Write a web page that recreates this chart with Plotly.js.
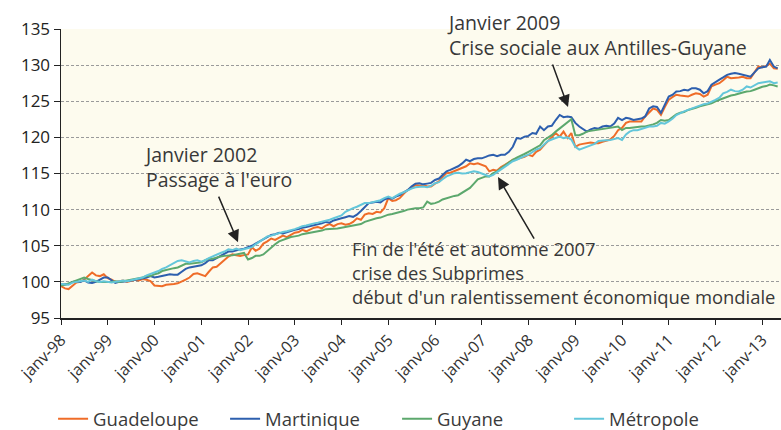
<!DOCTYPE html>
<html>
<head>
<meta charset="utf-8">
<script src="https://cdn.plot.ly/plotly-3.0.1.min.js"></script>
<style>html,body{margin:0;padding:0;background:#fff;overflow:hidden}#chart{width:781px;height:430px}</style>
</head>
<body>
<div id="chart"></div>
<script>
// Monthly index values, January 1998 to May 2013 (base ~100 in 1998)
const startYear = 1998;
const guadeloupe = [
  99.4, 99.1, 99.0, 99.5, 99.9, 100.0, 100.3, 100.8, 101.3, 100.9, 100.8, 101.05,
  100.5, 100.3, 100.0, 100.1, 100.2, 100.0, 100.2, 100.3, 100.2, 100.4, 100.3, 100.1,
  99.5, 99.4, 99.4, 99.6, 99.6, 99.7, 99.8, 100.0, 100.3, 100.6, 101.1, 101.2,
  101.0, 100.8, 101.4, 102.0, 102.1, 102.6, 103.1, 103.5, 103.8, 103.7, 103.6, 103.7,
  103.8, 104.8, 104.3, 104.6, 105.3, 105.6, 106.0, 105.8, 106.1, 106.4, 106.2, 106.5,
  106.8, 106.9, 107.2, 107.0, 107.3, 107.5, 107.6, 107.4, 107.8, 108.0, 107.7, 108.0,
  108.1, 107.9, 108.0, 108.3, 108.8, 108.6, 109.3, 109.5, 109.4, 109.7, 109.6, 110.2,
  111.6, 111.2, 111.3, 111.6, 112.2, 112.7, 113.0, 113.4, 113.3, 113.4, 113.2, 113.2,
  113.6, 113.9, 114.5, 115.05, 115.1, 115.3, 115.5, 115.7, 116.0, 116.4, 116.3, 116.4,
  116.2, 116.0, 115.3, 115.5, 115.4, 115.9, 116.2, 116.5, 116.9, 117.0, 117.1, 117.3,
  117.6, 117.4, 118.0, 118.3, 118.9, 119.5, 120.0, 120.6, 120.1, 120.8, 119.9, 120.6,
  118.7, 119.0, 119.1, 119.2, 119.3, 119.2, 119.2, 119.4, 119.6, 119.7, 120.2, 121.0,
  121.3, 122.0, 122.2, 122.2, 122.1, 122.2, 122.9, 123.4, 124.0, 123.8, 123.1, 124.2,
  125.2, 125.6, 125.9, 125.8, 125.7, 125.65, 125.9, 126.1, 126.0, 125.65, 125.9, 127.05,
  127.3, 127.5, 127.9, 128.4, 128.2, 128.2, 128.3, 128.4, 128.2, 128.2, 129.0, 129.8,
  129.7, 129.9, 130.2, 129.55, 129.5
];
const martinique = [
  99.6, 99.6, 99.7, 100.0, 100.1, 100.0, 100.2, 99.9, 99.85, 100.0, 100.3, 100.6,
  100.6, 100.2, 99.85, 100.0, 100.1, 100.1, 100.2, 100.3, 100.35, 100.4, 100.6, 100.8,
  100.6, 100.7, 100.8, 101.0, 101.05, 101.0, 101.0, 101.4, 101.8, 102.0, 102.1, 102.3,
  102.3, 102.6, 103.0, 103.0, 103.3, 103.6, 103.9, 104.2, 104.2, 104.4, 104.5, 104.6,
  104.8, 105.0, 105.3, 105.6, 106.0, 106.3, 106.5, 106.6, 106.8, 106.7, 106.9, 107.0,
  107.2, 107.3, 107.5, 107.6, 107.7, 107.9, 108.0, 108.1, 108.3, 108.2, 108.5, 108.6,
  108.8, 108.95, 109.1, 109.0, 109.3, 109.8, 110.4, 110.9, 111.0, 111.1, 111.0, 111.4,
  111.6, 111.5, 111.8, 112.0, 112.4, 112.7, 113.2, 113.6, 113.65, 113.5, 113.6, 113.7,
  114.1, 114.3, 114.8, 115.3, 115.5, 115.7, 116.0, 116.4, 116.9, 116.7, 117.0, 117.1,
  117.1, 117.3, 117.5, 117.6, 117.4, 117.6, 117.6, 118.0, 118.7, 119.9, 119.8, 120.1,
  120.2, 120.6, 120.5, 121.5, 121.0, 121.5, 121.6, 122.4, 123.1, 122.8, 122.9, 122.8,
  122.0, 121.5, 121.2, 120.8, 121.1, 121.3, 121.2, 121.5, 121.6, 121.5, 121.9, 122.7,
  122.4, 122.7, 122.6, 122.4, 122.5, 122.6, 122.9, 124.0, 124.3, 124.2, 123.4, 124.6,
  125.65, 125.9, 126.35, 126.4, 126.6, 126.5, 126.8, 126.8, 126.6, 126.1, 126.4, 127.3,
  127.6, 128.0, 128.3, 128.65, 128.8, 128.9, 128.8, 128.65, 128.5, 128.4, 129.0, 129.55,
  129.7, 129.8, 130.7, 129.8, 129.55
];
const guyane = [
  99.5, 99.6, 99.8, 100.0, 100.3, 100.4, 100.6, 100.4, 100.2, 100.1, 100.0, 100.0,
  99.9, 100.0, 100.1, 100.0, 100.1, 100.2, 100.3, 100.3, 100.5, 100.6, 100.8, 100.8,
  101.05, 101.2, 101.5, 101.6, 101.8, 101.9, 102.0, 102.3, 102.5, 102.5, 102.6, 102.7,
  102.7, 103.0, 103.2, 103.2, 103.4, 103.5, 103.6, 103.6, 103.7, 103.8, 103.9, 104.0,
  103.1, 103.3, 103.6, 103.6, 103.8, 104.3, 104.8, 105.2, 105.6, 105.8, 106.0, 106.2,
  106.3, 106.4, 106.6, 106.7, 106.9, 107.0, 107.0, 107.1, 107.3, 107.3, 107.4, 107.4,
  107.5, 107.6, 107.6, 107.8, 107.9, 108.0, 108.3, 108.5, 108.6, 108.8, 108.9, 109.1,
  109.3, 109.4, 109.5, 109.7, 109.8, 110.0, 110.1, 110.2, 110.2, 110.3, 111.1, 110.8,
  110.9, 111.1, 111.4, 111.6, 111.8, 111.9, 112.0, 112.3, 112.7, 113.0, 113.6, 114.2,
  114.4, 114.6, 114.6, 115.05, 115.3, 115.7, 116.2, 116.5, 116.9, 117.2, 117.4, 117.7,
  118.0, 118.3, 118.7, 118.9, 119.6, 119.9, 120.3, 120.8, 121.2, 121.7, 122.1, 122.5,
  120.3, 120.3, 120.5, 120.8, 120.9, 121.0, 121.0, 121.2, 121.3, 121.3, 121.4, 121.5,
  121.0, 121.3, 121.3, 121.4, 121.5, 121.5, 121.5, 121.6, 121.8, 122.0, 122.4, 122.3,
  122.4, 122.8, 123.2, 123.4, 123.5, 123.8, 123.9, 124.1, 124.3, 124.4, 124.5, 124.7,
  125.0, 125.2, 125.4, 125.65, 125.8, 125.9, 126.1, 126.2, 126.35, 126.4, 126.6, 126.8,
  127.0, 127.1, 127.3, 127.2, 127.05
];
const metropole = [
  99.7, 99.6, 99.6, 99.9, 100.0, 100.1, 100.2, 100.0, 100.3, 100.1, 100.0, 100.1,
  100.0, 99.9, 100.0, 100.1, 100.2, 100.1, 100.2, 100.3, 100.5, 100.6, 100.9, 101.05,
  101.3, 101.5, 101.8, 102.0, 102.3, 102.6, 102.9, 103.0, 102.8, 102.7, 102.9, 103.0,
  102.8, 103.0, 103.3, 103.5, 103.8, 104.0, 104.2, 104.5, 104.4, 104.6, 104.4, 104.5,
  104.6, 104.8, 105.2, 105.6, 106.0, 106.3, 106.4, 106.6, 106.8, 106.9, 107.0, 107.1,
  107.3, 107.5, 107.7, 107.8, 108.0, 108.1, 108.2, 108.3, 108.5, 108.6, 108.8, 108.95,
  109.2, 109.7, 110.0, 110.2, 110.4, 110.6, 110.9, 110.9, 111.0, 111.1, 111.3, 111.6,
  111.8, 111.6, 111.9, 112.2, 112.4, 112.7, 112.9, 113.1, 113.2, 113.2, 113.1, 113.3,
  113.65, 113.8, 114.2, 114.6, 114.8, 115.05, 115.1, 115.0, 115.05, 115.2, 115.3, 115.2,
  115.05, 114.8, 114.6, 114.8, 115.2, 115.6, 116.0, 116.3, 116.7, 116.9, 117.2, 117.4,
  117.6, 118.0, 118.3, 118.5, 119.0, 119.5, 119.7, 119.9, 120.1, 119.9, 120.0, 119.7,
  118.7, 118.3, 118.5, 118.7, 118.9, 119.1, 119.5, 119.5, 119.6, 119.65, 119.8, 119.9,
  119.65, 120.4, 120.8, 121.0, 121.0, 121.2, 121.3, 121.5, 121.5, 121.6, 122.0, 121.9,
  122.2, 122.6, 123.1, 123.4, 123.6, 123.8, 124.0, 124.3, 124.4, 124.6, 124.7, 124.9,
  125.2, 125.5, 126.1, 126.3, 126.6, 126.4, 126.35, 126.6, 127.05, 126.9, 127.2, 127.5,
  127.6, 127.7, 127.75, 127.5, 127.6
];
const seriesNames = ['Guadeloupe', 'Martinique', 'Guyane', 'Métropole'];
const tickYears = [1998, 1999, 2000, 2001, 2002, 2003, 2004, 2005, 2006, 2007, 2008, 2009, 2010, 2011, 2012, 2013];
const tickLabels = ['janv-98', 'janv-99', 'janv-00', 'janv-01', 'janv-02', 'janv-03', 'janv-04', 'janv-05',
                    'janv-06', 'janv-07', 'janv-08', 'janv-09', 'janv-10', 'janv-11', 'janv-12', 'janv-13'];
const yTicks = [95, 100, 105, 110, 115, 120, 125, 130, 135];
const yGrid = [100, 105, 110, 115, 120, 125, 130];

function monthDates(n) {
  const out = [];
  for (let i = 0; i < n; i++) {
    const y = startYear + Math.floor(i / 12);
    const m = (i % 12) + 1;
    out.push(y + '-' + String(m).padStart(2, '0') + '-01');
  }
  return out;
}

const colors = ['#ef6c28', '#2d5fae', '#5ca86d', '#63c6da'];
const allSeries = [guadeloupe, martinique, guyane, metropole];
const traces = allSeries.map((vals, i) => ({
  type: 'scatter', mode: 'lines',
  x: monthDates(vals.length), y: vals,
  name: seriesNames[i],
  line: {color: colors[i], width: 2}
}));

const FONT = 'Open Sans, Lato, sans-serif';
const annFont = {size: 19.5, color: '#383838', family: FONT};
const layout = {
  width: 781, height: 430,
  margin: {l: 61, r: 0, t: 29, b: 112, autoexpand: false},
  paper_bgcolor: '#ffffff',
  plot_bgcolor: '#fdfbee',
  font: {family: FONT, color: '#333', size: 16},
  showlegend: true,
  legend: {
    orientation: 'h', x: -0.011, xanchor: 'left', y: -0.35, yanchor: 'middle',
    font: {size: 18.5, color: '#3a3a3a', family: FONT},
    entrywidth: 127, entrywidthmode: 'pixels', bgcolor: 'rgba(0,0,0,0)'
  },
  xaxis: {
    type: 'date',
    range: ['1998-01-01', '2013-05-27'],
    tickvals: tickYears.map(y => y + '-01-01'),
    ticktext: tickLabels,
    tickangle: -45,
    ticks: 'outside', ticklen: 5, tickcolor: '#222', tickwidth: 1,
    showline: true, linecolor: '#222', linewidth: 1.5,
    showgrid: false, zeroline: false,
    tickfont: {size: 16, color: '#333', family: FONT}
  },
  yaxis: {
    range: [95, 135],
    tickvals: yTicks,
    ticks: 'outside', ticklen: 6, tickcolor: '#222', tickwidth: 1,
    showline: true, linecolor: '#222', linewidth: 1.5,
    showgrid: false, zeroline: false,
    tickfont: {size: 17, color: '#222', family: FONT},
    minor: {tickvals: yGrid, showgrid: true, gridcolor: '#9a9a9a', gridwidth: 1, griddash: '3px,2px', ticklen: 0}
  },
  annotations: [
    {xref: 'paper', yref: 'paper', x: 0.113, y: 0.521, xanchor: 'left', yanchor: 'middle', align: 'left',
     text: 'Janvier 2002<br>Passage à l\'euro', showarrow: false, font: annFont},
    {xref: 'paper', yref: 'paper', x: 0.534, y: 0.979, xanchor: 'left', yanchor: 'middle', align: 'left',
     text: 'Janvier 2009<br>Crise sociale aux Antilles-Guyane', showarrow: false, font: annFont},
    {xref: 'paper', yref: 'paper', x: 0.402, y: 0.159, xanchor: 'left', yanchor: 'middle', align: 'left',
     text: 'Fin de l\'été et automne 2007<br>crise des Subprimes<br>début d\'un ralentissement économique mondiale',
     showarrow: false, font: {size: 18.4, color: '#383838', family: FONT}},
    {x: '2001-10-15', y: 105.5, text: '', showarrow: true, ax: -20, ay: -47, arrowhead: 2, arrowsize: 1.6, arrowwidth: 1.5, arrowcolor: '#222', standoff: 0},
    {x: '2008-11-05', y: 124.2, text: '', showarrow: true, ax: -16, ay: -44, arrowhead: 2, arrowsize: 1.6, arrowwidth: 1.5, arrowcolor: '#222', standoff: 0},
    {x: '2007-05-08', y: 114.5, text: '', showarrow: true, ax: 37, ay: 63, arrowhead: 2, arrowsize: 1.6, arrowwidth: 1.5, arrowcolor: '#222', standoff: 0}
  ]
};

Plotly.newPlot('chart', traces, layout, {displayModeBar: false, staticPlot: true});
</script>
</body>
</html>
